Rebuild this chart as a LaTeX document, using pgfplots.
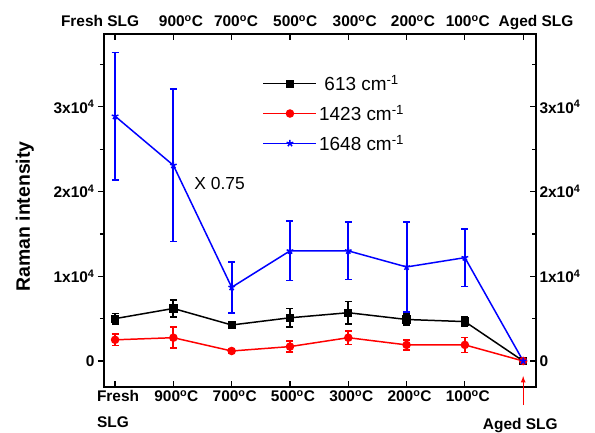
\documentclass[border=0pt]{standalone}
\usepackage{pgfplots}
\pgfplotsset{compat=1.18}
\usepackage{fontspec}
\setmainfont{Liberation Sans}
\newcommand{\tickfont}{\fontsize{15.5}{18}\selectfont\bfseries}
\newcommand{\dg}{\textsuperscript{o}C}

\pgfplotsset{
  common/.style={
    scale only axis, width=432bp, height=353bp,
    xmin=-0.19, xmax=7.22, ymin=-3070, ymax=38600,
    axis line style={line width=1.2pt},
    tick style={line width=1.2pt, black},
    major tick length=6bp, minor tick length=4bp,
    tick label style={font=\tickfont},
    ytick={0,10000,20000,30000},
    minor ytick={5000,15000,25000,35000},
    yticklabels={0,1x10\textsuperscript{4},2x10\textsuperscript{4},3x10\textsuperscript{4}},
    scaled y ticks=false,
  },
}

\begin{document}
\begin{tikzpicture}
\path[use as bounding box] (-104bp,-46bp) rectangle (491bp,387bp);

\begin{axis}[common,
  tick align=inside,
  xtick={0,...,7}, xtick pos=both, xticklabel pos=left,
  xticklabels={Fresh\\[8bp]SLG,900\dg,700\dg,500\dg,300\dg,200\dg,100\dg,{}},
  xticklabel style={align=left, xshift=3bp},
  ytick pos=right, yticklabel pos=right,
  clip=false,
  legend style={at={(0.36,0.895)}, anchor=north west, draw=none, fill=none,
    font=\fontsize{19}{22}\selectfont, row sep=9bp, legend cell align=left},
  legend image code/.code={\draw[mark repeat=2,mark phase=2,#1] plot coordinates {(0bp,0bp) (26.5bp,0bp) (53bp,0bp)};},
]
\addplot[black, line width=1.5pt, mark=square*, mark size=3.4pt,
  error bars/.cd, y dir=both, y explicit,
  error bar style={line width=2pt},
  error mark options={line width=1.6pt, mark size=3.5pt, rotate=90}] coordinates {
  (0,5000) +- (0,600)
  (1,6200) +- (0,1000)
  (2,4250) +- (0,350)
  (3,5100) +- (0,1100)
  (4,5700) +- (0,1300)
  (5,4900) +- (0,650)
  (6,4650) +- (0,570)
  (7,0) +- (0,0)
};
\addlegendentry{\hspace*{0.28em}613 cm\textsuperscript{-1}}
\addplot[red, line width=1.5pt, mark=*, mark size=3.5pt,
  error bars/.cd, y dir=both, y explicit,
  error bar style={line width=2pt},
  error mark options={line width=1.6pt, mark size=3.5pt, rotate=90}] coordinates {
  (0,2500) +- (0,670)
  (1,2750) +- (0,1250)
  (2,1180) +- (0,300)
  (3,1700) +- (0,670)
  (4,2750) +- (0,790)
  (5,1900) +- (0,590)
  (6,1900) +- (0,880)
  (7,0) +- (0,0)
};
\addlegendentry{1423 cm\textsuperscript{-1}}
\addplot[blue, line width=1.5pt, mark=star, mark size=3.5pt,
  error bars/.cd, y dir=both, y explicit,
  error bar style={line width=2pt},
  error mark options={line width=1.6pt, mark size=3.5pt, rotate=90}] coordinates {
  (0,28900) +- (0,7500)
  (1,23100) +- (0,9000)
  (2,8700) +- (0,3000)
  (3,13000) +- (0,3500)
  (4,13000) +- (0,3400)
  (5,11100) +- (0,5300)
  (6,12200) +- (0,3400)
  (7,0) +- (0,0)
};
\addlegendentry{1648 cm\textsuperscript{-1}}

\node[font=\fontsize{17.5}{20}\selectfont, anchor=west] at (axis cs:1.30,21000) {X 0.75};

\node[font=\tickfont, anchor=base, yshift=7bp] at (axis cs:-0.257,38600) {Fresh SLG};
\node[font=\tickfont, anchor=base, yshift=7bp] at (axis cs:1.13,38600) {900\dg};
\node[font=\tickfont, anchor=base, yshift=7bp] at (axis cs:2.075,38600) {700\dg};
\node[font=\tickfont, anchor=base, yshift=7bp] at (axis cs:3.09,38600) {500\dg};
\node[font=\tickfont, anchor=base, yshift=7bp] at (axis cs:4.11,38600) {300\dg};
\node[font=\tickfont, anchor=base, yshift=7bp] at (axis cs:5.11,38600) {200\dg};
\node[font=\tickfont, anchor=base, yshift=7bp] at (axis cs:6.05,38600) {100\dg};
\node[font=\tickfont, anchor=base, yshift=7bp] at (axis cs:7.22,38600) {Aged SLG};

\draw[red, line width=1.2pt, -latex] (axis cs:7,-5200) -- (axis cs:7,-1770);
\node[font=\tickfont, anchor=base] at (axis cs:6.95,-8030) {Aged SLG};
\end{axis}

\begin{axis}[common,
  axis y line*=left, hide x axis,
  tick align=outside,
  ylabel={Raman intensity},
  ylabel style={font=\fontsize{19.5}{22}\selectfont\bfseries, at={(axis description cs:-0.183,0.483)}, anchor=center},
]
\addplot[draw=none] coordinates {(0,0)};
\end{axis}
\end{tikzpicture}
\end{document}
